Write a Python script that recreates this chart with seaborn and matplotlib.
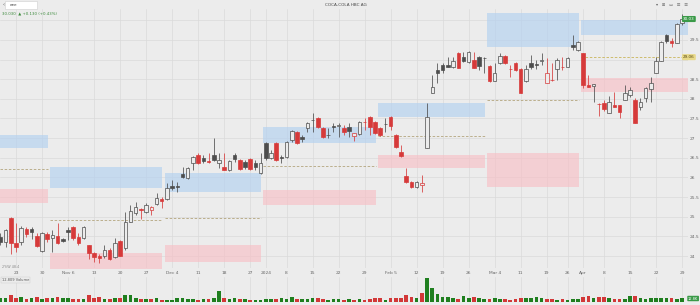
import numpy as np
import pandas as pd
import matplotlib
matplotlib.use("Agg")
import matplotlib.pyplot as plt
import matplotlib.transforms as mtransforms
import seaborn as sns

# ---------------- data ----------------
holidays = ["2023-12-25", "2023-12-26", "2024-01-01", "2024-03-18",
            "2024-03-25", "2024-03-29", "2024-04-01"]
dates = pd.bdate_range("2023-10-18", "2024-04-29", freq="C", holidays=holidays)

opens = [24.48, 24.36, 24.97, 24.33, 24.36, 24.69, 24.69, 24.51, 24.13, 24.56,
         24.46, 24.51, 24.43, 24.66, 24.74, 24.48, 24.46, 24.28, 24.08, 24.00,
         24.00, 24.15, 23.97, 24.38, 24.20, 24.86, 25.10, 25.20, 25.12, 25.17,
         25.32, 25.45, 25.45, 25.77, 25.78, 26.09, 25.98, 26.37, 26.57, 26.49,
         26.42, 26.57, 26.37, 26.26, 26.19, 26.57, 26.44, 26.39, 26.47, 26.37,
         26.11, 26.88, 26.49, 26.88, 26.52, 26.52, 26.95, 27.16, 27.02, 27.26,
         27.45, 27.51, 27.26, 27.09, 27.30, 27.32, 27.26, 27.28, 27.05, 27.11,
         27.42, 27.54, 27.41, 27.26, 27.35, 27.54, 27.08, 26.65, 26.04, 25.88,
         25.76, 25.81, 26.75, 28.15, 28.73, 28.86, 28.85, 28.81, 29.17, 29.06,
         28.94, 28.99, 29.06, 29.03, 28.84, 28.45, 28.91, 29.09, 28.77, 28.91,
         28.76, 28.45, 28.91, 28.89, 28.97, 28.40, 28.49, 28.76, 28.82, 28.81,
         29.36, 29.24, 29.17, 28.34, 28.33, 27.86, 27.89, 27.64, 27.83, 27.84,
         27.97, 28.10, 27.97, 27.79, 28.02, 28.25, 28.66, 28.96, 29.62, 29.46,
         29.42, 29.93]
highs = [24.59, 24.69, 24.99, 24.84, 24.76, 24.74, 24.74, 24.59, 24.61, 24.61,
         24.66, 24.84, 24.46, 24.74, 24.76, 24.59, 24.76, 24.28, 24.10, 24.05,
         24.28, 24.20, 24.46, 24.41, 25.12, 25.30, 25.37, 25.22, 25.35, 25.27,
         25.60, 25.50, 25.86, 25.93, 25.88, 26.26, 26.26, 26.54, 26.62, 26.57,
         26.62, 27.00, 26.62, 26.62, 26.44, 26.62, 26.47, 26.44, 26.49, 26.44,
         26.62, 26.90, 26.70, 26.90, 26.57, 26.93, 27.21, 27.18, 27.08, 27.41,
         27.64, 27.54, 27.28, 27.26, 27.38, 27.38, 27.33, 27.38, 27.13, 27.44,
         27.51, 27.56, 27.44, 27.28, 27.51, 27.56, 27.11, 26.82, 26.24, 25.91,
         25.91, 26.06, 27.89, 28.61, 28.91, 28.91, 29.06, 29.06, 29.19, 29.19,
         29.22, 29.19, 29.09, 29.06, 28.86, 28.91, 29.17, 29.12, 28.86, 28.94,
         28.78, 28.86, 29.12, 28.99, 29.17, 29.04, 28.91, 29.04, 29.06, 29.06,
         29.62, 29.47, 29.17, 28.61, 28.38, 27.89, 27.97, 28.07, 28.17, 27.84,
         28.35, 28.30, 28.02, 28.02, 28.30, 28.55, 29.06, 29.47, 29.65, 29.55,
         29.93, 30.16]
lows = [24.28, 24.23, 24.05, 24.10, 24.28, 24.48, 24.43, 24.23, 24.10, 24.36,
        24.10, 24.31, 24.36, 24.41, 24.41, 24.28, 24.43, 23.92, 23.85, 23.82,
        23.95, 23.90, 23.95, 24.00, 24.15, 24.86, 25.04, 24.94, 25.10, 25.04,
        25.30, 25.22, 25.42, 25.68, 25.63, 25.98, 25.96, 26.19, 26.34, 26.37,
        26.37, 26.42, 26.24, 26.19, 26.16, 26.39, 26.19, 26.21, 26.19, 26.19,
        26.09, 26.44, 26.47, 26.42, 26.37, 26.49, 26.90, 26.85, 26.90, 27.16,
        27.16, 27.26, 27.00, 27.00, 27.16, 27.03, 27.08, 27.03, 26.93, 27.08,
        27.21, 27.08, 27.11, 27.05, 27.16, 27.21, 26.75, 26.52, 25.86, 25.73,
        25.73, 25.63, 26.75, 28.15, 28.40, 28.66, 28.81, 28.78, 28.78, 28.94,
        28.91, 28.78, 28.73, 28.66, 28.43, 28.45, 28.89, 28.89, 28.55, 28.71,
        28.15, 28.43, 28.76, 28.76, 28.86, 28.40, 28.45, 28.48, 28.73, 28.81,
        29.24, 29.22, 28.28, 28.30, 27.92, 27.56, 27.69, 27.64, 27.79, 27.51,
        27.97, 28.05, 27.38, 27.71, 27.92, 27.92, 28.66, 28.96, 29.42, 29.32,
        29.42, 29.88]
closes = [24.36, 24.66, 24.33, 24.23, 24.71, 24.56, 24.61, 24.26, 24.59, 24.43,
          24.54, 24.33, 24.38, 24.61, 24.46, 24.33, 24.74, 24.08, 23.97, 23.95,
          24.15, 23.92, 24.33, 24.00, 24.86, 25.15, 25.25, 25.17, 25.30, 25.25,
          25.48, 25.40, 25.73, 25.74, 25.76, 26.01, 26.24, 26.52, 26.37, 26.42,
          26.38, 26.44, 26.44, 26.19, 26.42, 26.47, 26.21, 26.26, 26.21, 26.26,
          26.37, 26.49, 26.62, 26.44, 26.49, 26.90, 27.18, 26.88, 26.99, 27.38,
          27.46, 27.28, 27.03, 27.07, 27.27, 27.33, 27.16, 27.18, 27.12, 27.41,
          27.40, 27.28, 27.13, 27.08, 27.36, 27.31, 26.77, 26.54, 25.88, 25.76,
          25.88, 25.87, 27.54, 28.30, 28.66, 28.73, 28.82, 28.96, 28.78, 28.96,
          29.19, 28.78, 28.84, 29.04, 28.45, 28.66, 29.09, 28.91, 28.75, 28.73,
          28.15, 28.76, 28.81, 28.87, 28.99, 28.66, 28.47, 28.99, 28.80, 29.04,
          29.33, 29.45, 28.35, 28.31, 28.38, 27.87, 27.74, 27.92, 27.80, 27.66,
          28.15, 28.22, 27.38, 27.92, 28.28, 28.40, 28.96, 29.45, 29.47, 29.43,
          29.90, 30.03]
# volume, thousands of shares
volumes_k = [36, 36, 72, 36, 48, 24, 36, 48, 24, 36,
             36, 48, 36, 36, 24, 24, 24, 72, 36, 48,
             24, 24, 36, 36, 72, 72, 36, 24, 24, 24,
             36, 12, 12, 12, 36, 36, 24, 24, 12, 24,
             24, 36, 120, 36, 24, 36, 24, 24, 12, 12,
             12, 24, 24, 24, 36, 24, 48, 24, 24, 24,
             36, 36, 24, 12, 24, 24, 12, 24, 12, 24,
             12, 24, 36, 36, 12, 36, 36, 36, 72, 48,
             36, 96, 276, 156, 84, 48, 48, 36, 24, 60,
             36, 48, 36, 24, 24, 36, 24, 24, 12, 24,
             36, 36, 36, 48, 36, 24, 24, 12, 24, 12,
             24, 24, 48, 60, 36, 48, 48, 36, 24, 24,
             24, 60, 60, 36, 24, 36, 36, 36, 36, 36,
             24, 36]

# monthly zones (supply / demand) and mid lines
zone_start = ["2023-10-18", "2023-11-01", "2023-12-01", "2024-01-02",
              "2024-02-01", "2024-03-01", "2024-04-02"]
blue_hi = [27.08, 26.26, 26.11, 27.28, 27.89, 30.18, 30.01]
blue_lo = [26.74, 25.73, 25.63, 26.88, 27.54, 29.32, 29.62]
red_hi = [25.70, 24.08, 24.28, 25.68, 26.57, 26.62, 28.53]
red_lo = [25.36, 23.60, 23.84, 25.30, 26.24, 25.76, 28.17]
mid_line = [26.21, 24.92, 24.97, 26.29, 27.05, 27.97, 29.06]

tick_labels = ["23", "30", "Nov 6", "13", "20", "27", "Dec 4", "11", "18", "27",
               "2024", "8", "15", "22", "29", "Feb 5", "12", "19", "26", "Mar 4",
               "11", "19", "26", "Apr", "8", "15", "22", "29"]
price_ticks = [24, 24.5, 25, 25.5, 26, 26.5, 27, 27.5, 28, 28.5, 29, 29.5, 30]
price_tick_labels = ["24", "24.5", "25", "25.5", "26", "26.5", "27", "27.5",
                     "28", "28.5", "", "29.5", ""]

title = "COCA-COLA HBC AG"
symbol = "EEE"
last_price = closes[-1]
pivot_price = mid_line[-1]

# ---------------- style ----------------
BG = "#ececec"
GRID = "#dadada"
RED = "#d63a3a"
DARK = "#4d4d4d"
VGREEN = "#1f7f1f"
VRED = "#d23838"
BLUE_Z = "#b3d1f0"
RED_Z = "#f7c0c6"
DASH = "#b3a57e"

sns.set_theme(style="whitegrid", rc={
    "axes.facecolor": BG, "figure.facecolor": BG, "grid.color": GRID,
    "grid.linewidth": 0.5, "axes.edgecolor": BG})
plt.rcParams["font.family"] = ["DejaVu Sans", "Noto Sans"]

W, H = 700, 305
fig = plt.figure(figsize=(7, 3.05), dpi=100)


def fx(px):
    return px / W


def fy(py):
    return 1 - py / H


ax = fig.add_axes([0, fy(268), fx(688), fy(9) - fy(268)])
axv = fig.add_axes([0, fy(301.5), fx(688), fy(277) - fy(301.5)])

n = len(closes)
x = np.arange(n)
o = np.array(opens)
h = np.array(highs)
l = np.array(lows)
c = np.array(closes)
prev = np.r_[c[0] - 1, c[:-1]]
rising = c >= prev
up = c >= o
col = np.where(rising, DARK, RED)

xmin, xmax = -0.08, 132.15

# zones
pos_of = {d.strftime("%Y-%m-%d"): i for i, d in enumerate(dates)}
starts = [pos_of[s] for s in zone_start]
for k in range(len(starts)):
    x0 = xmin if k == 0 else starts[k] - 0.5 + 0.05
    x1 = (starts[k + 1] - 0.5 - 0.35) if k + 1 < len(starts) else xmax
    ax.fill_between([x0, x1], blue_lo[k], blue_hi[k], color=BLUE_Z, alpha=0.65, lw=0, zorder=1)
    ax.fill_between([x0, x1], red_lo[k], red_hi[k], color=RED_Z, alpha=0.65, lw=0, zorder=1)
    lc = "#c9b55a" if k == len(starts) - 1 else DASH
    ax.plot([x0, x1], [mid_line[k]] * 2, color=lc, lw=0.6, dashes=(3, 2), zorder=2)

# candles
ax.vlines(x, l, h, colors=col, lw=0.55, zorder=3)
body_lo = np.minimum(o, c)
body_h = np.maximum(np.abs(c - o), 0.012)
face = np.where(up, BG, col)
ax.bar(x, body_h, bottom=body_lo, width=0.68, color=face, edgecolor=col,
       linewidth=0.5, zorder=4)

# week ticks: first trading day of each week after the first partial week
iso = dates.isocalendar()
wk = pd.Series(x, index=dates).groupby([iso.year.values, iso.week.values]).min()
tick_pos = list(wk.values[1:])

for a in (ax, axv):
    a.set_xlim(xmin, xmax)
    a.set_xticks(tick_pos)
    a.grid(True, color=GRID, lw=0.5)
    a.set_axisbelow(True)
    for s in a.spines.values():
        s.set_visible(False)

ax.set_ylim(23.695, 30.285)
ax.set_yticks(price_ticks)
ax.set_yticklabels(price_tick_labels)
ax.yaxis.tick_right()
ax.set_xticklabels(tick_labels)
ax.tick_params(axis="x", length=0, pad=2.2, labelsize=3.2, labelcolor="#666666")
ax.tick_params(axis="y", length=0, pad=1.5, labelsize=3.2, labelcolor="#666666")

# volume with seaborn
vdf = pd.DataFrame({"pos": x, "vol": volumes_k,
                    "dir": np.where(rising, "up", "down")})
sns.barplot(data=vdf, x="pos", y="vol", hue="dir", native_scale=True,
            palette={"up": VGREEN, "down": VRED}, width=0.7, dodge=False,
            legend=False, errorbar=None, saturation=1, linewidth=0, ax=axv)
axv.set_xlim(xmin, xmax)
axv.set_ylim(0, max(volumes_k) * 1.065)
axv.set_xticks(tick_pos)
axv.set_xticklabels([])
axv.set_yticks([])
axv.set_xlabel("")
axv.set_ylabel("")
axv.tick_params(length=0)

# price labels on right edge
trans = mtransforms.blended_transform_factory(ax.transAxes, ax.transData)
ax.text(683 / 688, last_price, f"{last_price:.2f}", transform=trans, ha="left",
        va="center", fontsize=3.0, color="white", clip_on=False, zorder=10,
        bbox=dict(boxstyle="round,pad=0.25", fc="#3a9a48", ec="none"))
ax.text(683 / 688, pivot_price, f"{pivot_price:.2f}", transform=trans, ha="left",
        va="center", fontsize=3.0, color="#5a4a10", clip_on=False, zorder=10,
        bbox=dict(boxstyle="round,pad=0.25", fc="#e8d98a", ec="none"))

# header / annotations
fig.patches.append(plt.Rectangle((fx(5), fy(9)), fx(32), fy(1) - fy(9),
                                 transform=fig.transFigure, fc="white", ec="#cfcfcf", lw=0.4))
fig.text(fx(2.5), fy(5), "‹", fontsize=4, color="#555555", va="center")
fig.text(fx(10), fy(5), symbol.lower(), fontsize=3, color="#444444", va="center")
fig.text(fx(346), fy(5), title, fontsize=3.0, color="#444444", ha="center", va="center")
fig.text(fx(656), fy(5), "▾   ⊞   ▭   ☰   ☰", fontsize=3.0, color="#666666", va="center")
fig.text(fx(2), fy(13.5), f"{last_price:.3f}  ▲ +0.130 (+0.43%)", fontsize=2.8,
         color="#3c8a3c", va="center")
fig.text(fx(2), fy(267), "2Y/W 48.4", fontsize=2.4, color="#888888", va="center")
fig.text(fx(2), fy(280), "12,809 Volume", fontsize=2.6, color="#555555", va="center",
         bbox=dict(boxstyle="square,pad=0.2", fc=BG, ec="#cccccc", lw=0.3))
fig.text(fx(688), fy(298.5), "12.8K", fontsize=2.6, color="white", va="center",
         bbox=dict(boxstyle="round,pad=0.2", fc="#3a9a48", ec="none"))

fig.savefig("out.png", dpi=100, facecolor=BG)
